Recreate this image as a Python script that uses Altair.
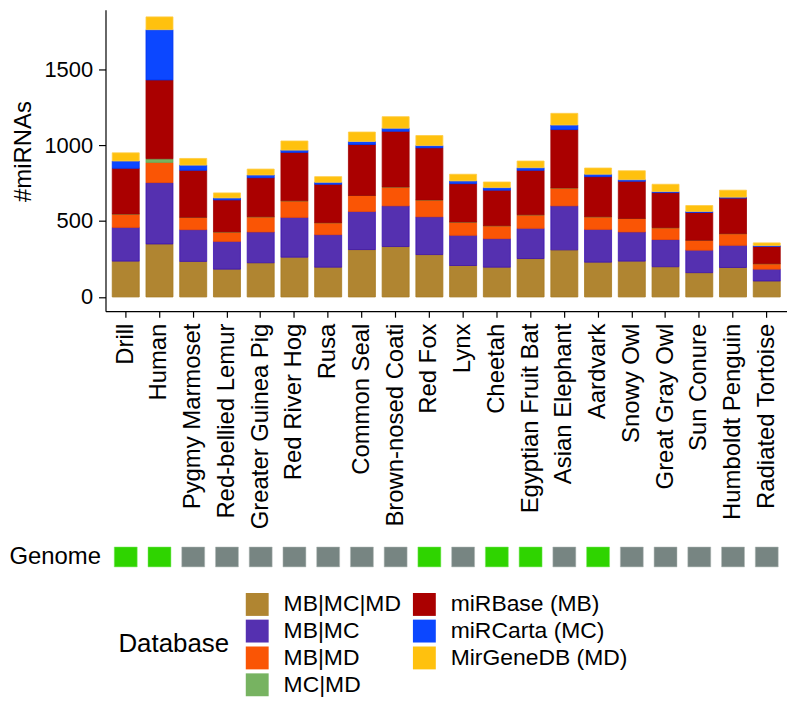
import altair as alt
import pandas as pd

species = ["Drill", "Human", "Pygmy Marmoset", "Red-bellied Lemur", "Greater Guinea Pig",
           "Red River Hog", "Rusa", "Common Seal", "Brown-nosed Coati", "Red Fox", "Lynx",
           "Cheetah", "Egyptian Fruit Bat", "Asian Elephant", "Aardvark", "Snowy Owl",
           "Great Gray Owl", "Sun Conure", "Humboldt Penguin", "Radiated Tortoise"]

categories = ["MB|MC|MD", "MB|MC", "MB|MD", "MC|MD",
              "miRBase (MB)", "miRCarta (MC)", "MirGeneDB (MD)"]

mb_mc_md = [236, 349, 234, 183, 225, 262, 196, 312, 332, 279, 207, 196, 253, 310, 229, 236, 199, 160, 194, 105]
mb_mc = [222, 404, 209, 183, 203, 262, 214, 251, 268, 249, 199, 188, 199, 290, 216, 192, 179, 148, 146, 78]
mb_md = [88, 133, 81, 62, 100, 109, 79, 105, 124, 111, 87, 85, 89, 118, 83, 89, 78, 65, 77, 36]
mc_md = [0, 24, 0, 0, 0, 0, 0, 0, 0, 0, 0, 0, 0, 0, 0, 0, 0, 0, 0, 0]
mirbase = [301, 519, 310, 211, 257, 319, 253, 336, 367, 343, 253, 234, 293, 384, 264, 245, 231, 183, 234, 113]
mircarta = [48, 331, 34, 13, 18, 15, 13, 20, 20, 15, 18, 17, 17, 30, 16, 10, 7, 7, 6, 6]
mirgenedb = [54, 84, 44, 33, 39, 60, 37, 62, 76, 66, 44, 37, 44, 77, 41, 59, 48, 39, 46, 18]

genome = ["yes", "yes", "no", "no", "no", "no", "no", "no", "no", "yes",
          "no", "yes", "yes", "no", "yes", "no", "no", "no", "no", "no"]

fill_colors = ["#b08531", "#5530b0", "#fa5505", "#77b361", "#aa0000", "#0c47ff", "#ffc10e"]
edge_colors = ["#a87a20", "#3a10b0", "#f04a00", "#66aa55", "#a00000", "#0033ee", "#ffcc44"]

series = [mb_mc_md, mb_mc, mb_md, mc_md, mirbase, mircarta, mirgenedb]
rows = []
for k, cat in enumerate(categories):
    for i, sp in enumerate(species):
        rows.append({"species": sp, "db": cat, "rank": k, "n": series[k][i]})
df = pd.DataFrame(rows)

FONT = "Liberation Sans"
W = 685

x_scale = alt.Scale(domain=species, paddingInner=0.2, paddingOuter=0.2)
x_scale_g = alt.Scale(domain=species, paddingInner=0.32, paddingOuter=0.26)

bars = alt.Chart(df).mark_bar(strokeWidth=0.8).encode(
    x=alt.X("species:N", sort=species, scale=x_scale,
            axis=alt.Axis(title=None, labelAngle=-90, labelFontSize=24, labelColor="black",
                          labelLimit=400, domainColor="black", tickColor="black", tickSize=6,
                          labelPadding=6, domainWidth=1.2, tickWidth=1.2)),
    y=alt.Y("n:Q", stack="zero",
            scale=alt.Scale(domain=[-94, 1891], nice=False, zero=False),
            axis=alt.Axis(values=[0, 500, 1000, 1500], format="d", title="#miRNAs",
                          titleFontSize=24, titleFontWeight="normal", titleColor="black",
                          titlePadding=8, titleY=142, labelFontSize=22, labelColor="black",
                          domainColor="black", tickColor="black", tickSize=7, labelPadding=6,
                          grid=False, domainWidth=1.2, tickWidth=1.2)),
    color=alt.Color("db:N", scale=alt.Scale(domain=categories, range=fill_colors),
                    legend=alt.Legend(title="Database", orient="none", legendX=13, legendY=586,
                                      columns=2, titleOrient="left", titleFontSize=26,
                                      titleFontWeight="normal", titleColor="black",
                                      titleAnchor="middle", titlePadding=16,
                                      labelFontSize=23, labelColor="black", labelLimit=300,
                                      labelOffset=15, symbolType="square", symbolSize=529,
                                      symbolStrokeWidth=0, symbolOpacity=1, rowPadding=3,
                                      columnPadding=12)),
    stroke=alt.Stroke("db:N", scale=alt.Scale(domain=categories, range=edge_colors), legend=None),
    order=alt.Order("rank:Q", sort="ascending"),
).properties(width=W, height=303)

gdf = pd.DataFrame({"species": species, "genome": genome, "row": ["Genome"] * len(species)})

gen = alt.Chart(gdf).mark_rect(strokeWidth=1, strokeOpacity=0.5).encode(
    x=alt.X("species:N", sort=species, scale=x_scale_g, axis=None),
    y=alt.Y("row:N", scale=alt.Scale(paddingInner=0, paddingOuter=0),
            axis=alt.Axis(title=None, labelFontSize=24, labelColor="black",
                          ticks=False, domain=False, labelPadding=5)),
    color=alt.Color("genome:N", scale=alt.Scale(domain=["yes", "no"], range=["#2fd400", "#778582"]),
                    legend=None),
    stroke=alt.Stroke("genome:N", scale=alt.Scale(domain=["yes", "no"], range=["#7ae860", "#b0b8b6"]),
                      legend=None),
).properties(width=W, height=20)

chart = alt.vconcat(bars, gen, spacing=237, bounds="flush").resolve_scale(
    color="independent", x="independent", stroke="independent"
).configure(font=FONT).configure_view(stroke=None).properties(padding=0)

chart.save("out.html", embed_options={"renderer": "svg", "actions": False})
